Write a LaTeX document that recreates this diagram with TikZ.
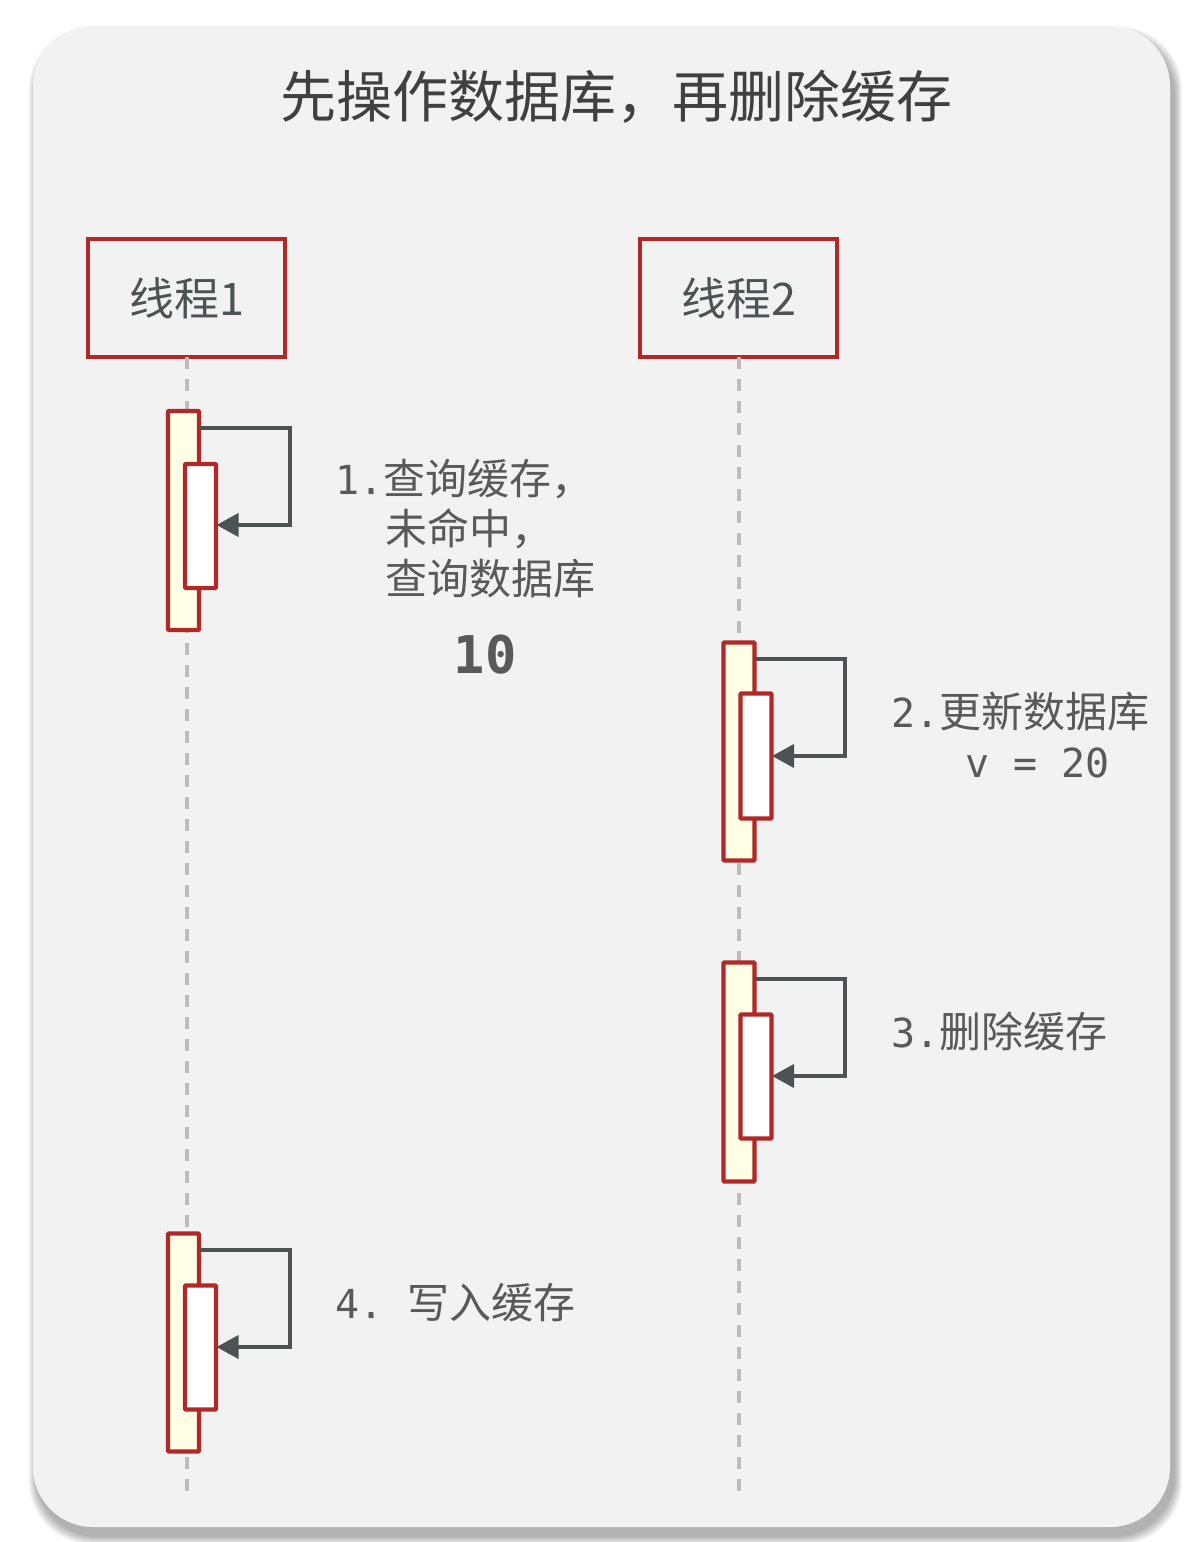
\documentclass[tikz,border=0pt]{standalone}
\usepackage{fontspec}
\setmainfont{Noto Sans CJK SC}
\newfontfamily\monofnt{DejaVu Sans Mono}
\usetikzlibrary{arrows.meta}
\definecolor{panelbg}{RGB}{242,242,242}
\definecolor{boxred}{RGB}{178,40,40}
\definecolor{arrowgray}{RGB}{77,83,83}
\definecolor{txtgray}{RGB}{89,89,89}
\definecolor{titlegray}{RGB}{64,64,64}
\definecolor{lifegray}{RGB}{188,188,188}
\definecolor{actyellow}{RGB}{255,255,229}
\tikzset{
  threadbox/.style={draw=boxred, line width=4.3pt, fill=panelbg, minimum width=197pt, minimum height=118pt, inner sep=0pt, outer sep=0pt, font=\fontsize{45}{52}\selectfont, text=arrowgray},
  actouter/.style={draw=boxred, line width=4.3pt, fill=actyellow, minimum width=31pt, inner sep=0pt, outer sep=0pt, rounded corners=1pt},
  actinner/.style={draw=boxred, line width=4.3pt, fill=white, minimum width=31pt, inner sep=0pt, outer sep=0pt, rounded corners=1pt},
  lifeline/.style={draw=lifegray, line width=4pt, dash pattern=on 12pt off 10pt},
  selfmsg/.style={draw=arrowgray, line width=3.8pt, -{Triangle[length=22pt,width=23pt]}},
  lbl/.style={anchor=base west, inner sep=0pt, text=txtgray, font=\fontsize{42}{48}\selectfont},
}
\begin{document}
\begin{tikzpicture}[x=1pt,y=-1pt]
\useasboundingbox (0,0) rectangle (1203,1542);
% shadow
\foreach \i in {1,...,10}{
  \fill[black, opacity=0.035, rounded corners=62pt] ({33+4-\i*0.8},{26+9-\i*0.8}) rectangle ({1170+4+\i*0.8},{1527+9+\i*0.8});
}
\node[draw=none, fill=panelbg, rounded corners=60pt, minimum width=1137pt, minimum height=1501pt, inner sep=0pt] (panel) at (601.5,776.5) {};
% title
\node[inner sep=0pt, text=titlegray, font=\fontsize{56}{64}\selectfont] (title) at (616,97) {先操作数据库，再删除缓存};
% thread boxes
\node[threadbox] (t1) at (186.5,298) {线程1};
\node[threadbox] (t2) at (738.5,298) {线程2};
\coordinate (e1) at (186.5,1492);
\coordinate (e2) at (738.5,1492);
\draw[lifeline] (t1.south) -- (e1);
\draw[lifeline] (t2.south) -- (e2);
% activation 1
\node[actouter, minimum height=219pt] (a1o) at (183.5,520.5) {};
\node[actinner, minimum height=124pt] (a1i) at (200.5,526) {};
\coordinate (a1s) at (199.5,428);
\coordinate (a1c) at (290,428);
\coordinate (a1e) at (216.5,525);
\draw[selfmsg] (a1s) -- (a1c) |- (a1e);
% activation 2
\node[actouter, minimum height=218pt] (a2o) at (739,751.5) {};
\node[actinner, minimum height=125pt] (a2i) at (756,756) {};
\coordinate (a2s) at (755,659);
\coordinate (a2c) at (845,659);
\coordinate (a2e) at (772,756);
\draw[selfmsg] (a2s) -- (a2c) |- (a2e);
% activation 3
\node[actouter, minimum height=219pt] (a3o) at (739,1072) {};
\node[actinner, minimum height=124pt] (a3i) at (756,1076.5) {};
\coordinate (a3s) at (755,979);
\coordinate (a3c) at (845,979);
\coordinate (a3e) at (772,1076);
\draw[selfmsg] (a3s) -- (a3c) |- (a3e);
% activation 4
\node[actouter, minimum height=218pt] (a4o) at (183.5,1342.5) {};
\node[actinner, minimum height=124pt] (a4i) at (200.5,1347.5) {};
\coordinate (a4s) at (199.5,1250);
\coordinate (a4c) at (290,1250);
\coordinate (a4e) at (216.5,1347);
\draw[selfmsg] (a4s) -- (a4c) |- (a4e);
% labels
\node[lbl] (l1a) at (335,494) {{\fontsize{40}{48}\selectfont\monofnt 1.}查询缓存，};
\node[lbl] (l1b) at (385,544) {未命中，};
\node[lbl] (l1c) at (385,594) {查询数据库};
\node[anchor=base, inner sep=0pt, text=txtgray, font=\fontsize{52}{56}\selectfont\monofnt\bfseries] (v10) at (485,673) {10};
\node[lbl] (l2a) at (891,727) {{\fontsize{40}{48}\selectfont\monofnt 2.}更新数据库};
\node[lbl, font=\fontsize{40}{48}\selectfont\monofnt] (l2b) at (965,777) {v = 20};
\node[lbl] (l3) at (891,1047) {{\fontsize{40}{48}\selectfont\monofnt 3.}删除缓存};
\node[lbl] (l4) at (335,1318) {{\fontsize{40}{48}\selectfont\monofnt 4.\ }写入缓存};
\end{tikzpicture}
\end{document}
